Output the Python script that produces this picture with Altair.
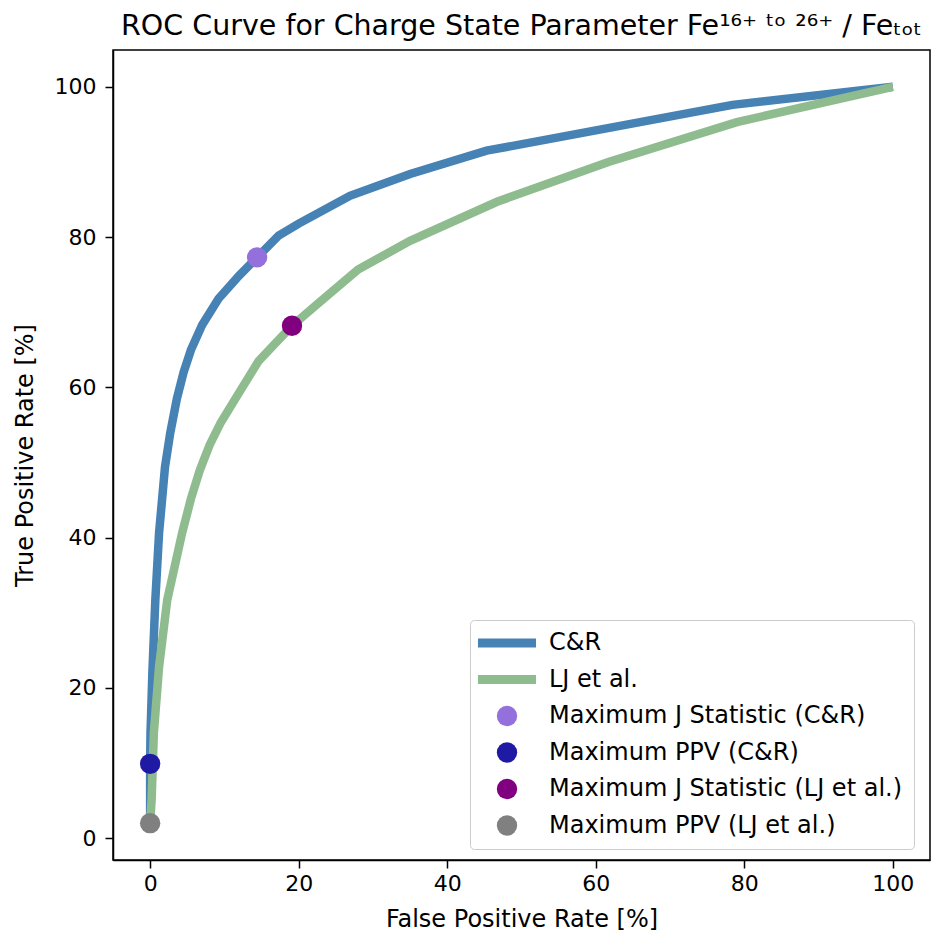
import altair as alt
import pandas as pd

# C&R ROC curve (False positive rate %, True positive rate %)
cr_fpr = [0, 0, 0.05, 0.3, 0.7, 1.2, 2.0, 2.7, 3.6, 4.5, 5.5, 7.0, 9.2, 12.0, 14.4, 17.3, 20.0, 26.9, 35.0, 45.3, 60.0, 78.4, 100]
cr_tpr = [2, 9.9, 14.0, 22.0, 31.7, 40.6, 49.4, 53.9, 58.5, 62.0, 65.0, 68.3, 71.8, 74.9, 77.3, 80.2, 81.8, 85.5, 88.4, 91.5, 94.2, 97.6, 100]

# LJ et al. ROC curve
lj_fpr = [0, 0.2, 0.5, 1.2, 2.3, 4.3, 5.5, 6.7, 8.0, 9.5, 11.3, 14.6, 16.5, 19.1, 23.0, 28.0, 35.0, 46.7, 61.7, 79.0, 100]
lj_tpr = [2, 5.1, 14.0, 22.8, 31.7, 40.6, 45.2, 49.0, 52.3, 55.3, 58.2, 63.5, 65.5, 68.2, 71.5, 75.7, 79.5, 84.7, 90.0, 95.3, 100]

# Highlighted operating points
pt_labels = ["Maximum J Statistic (C&R)", "Maximum PPV (C&R)",
             "Maximum J Statistic (LJ et al.)", "Maximum PPV (LJ et al.)"]
pt_fpr = [14.4, 0.0, 19.1, 0.0]
pt_tpr = [77.3, 9.9, 68.2, 2.0]

line_labels = ["C&R", "LJ et al."]
all_labels = line_labels + pt_labels
colors = ["#4682B4", "#8FBC8F", "#9370DB", "#1F1AA3", "#800080", "#808080"]

lines_df = pd.concat([
    pd.DataFrame({"fpr": cr_fpr, "tpr": cr_tpr, "series": "C&R", "idx": range(len(cr_fpr))}),
    pd.DataFrame({"fpr": lj_fpr, "tpr": lj_tpr, "series": "LJ et al.", "idx": range(len(lj_fpr))}),
])
points_df = pd.DataFrame({"fpr": pt_fpr, "tpr": pt_tpr, "series": pt_labels})

FONT = "DejaVu Sans"
# legend glyphs: a thick bar for the curves, a circle for the markers
bar_path = "M-2.85,-0.44H2.85V0.44H-2.85Z"
shapes = [bar_path, bar_path, "circle", "circle", "circle", "circle"]

color_scale = alt.Scale(domain=all_labels, range=colors)
shape_scale = alt.Scale(domain=all_labels, range=shapes)
legend = alt.Legend(
    title=None, orient="none", legendX=357, legendY=570,
    labelFont=FONT, labelFontSize=24, labelColor="black",
    symbolSize=415, rowPadding=12.5, padding=11, symbolOffset=14, labelOffset=30,
    labelLimit=600, symbolStrokeWidth=0, symbolOpacity=1,
    fillColor="white", strokeColor="#cccccc", cornerRadius=4,
)

x_enc = alt.X("fpr:Q", scale=alt.Scale(domain=[-5, 105], nice=False, zero=False),
              axis=alt.Axis(values=[0, 20, 40, 60, 80, 100], title="False Positive Rate [%]",
                            labelPadding=5, titlePadding=13))
y_enc = alt.Y("tpr:Q", scale=alt.Scale(domain=[-2.9, 104.9], nice=False, zero=False),
              axis=alt.Axis(values=[0, 20, 40, 60, 80, 100], title="True Positive Rate [%]",
                            labelPadding=9, titlePadding=17))

lines = alt.Chart(lines_df).mark_line(strokeWidth=8.5, strokeCap="butt").encode(
    x=x_enc, y=y_enc,
    color=alt.Color("series:N", scale=color_scale, legend=legend),
    order="idx:Q",
)
points = alt.Chart(points_df).mark_point(filled=True, size=415, opacity=1, strokeWidth=0).encode(
    x="fpr:Q", y="tpr:Q",
    color=alt.Color("series:N", scale=color_scale, legend=legend),
    shape=alt.Shape("series:N", scale=shape_scale, legend=legend),
)

chart = alt.layer(lines, points).properties(
    width=817, height=810,
    title=alt.Title("ROC Curve for Charge State Parameter Fe¹⁶⁺ ᵗᵒ ²⁶⁺ / Feₜₒₜ",
                    font=FONT, fontSize=28.5, fontWeight="normal", color="black",
                    anchor="middle", offset=10),
    autosize=alt.AutoSizeParams(type="none"),
    padding={"left": 113, "top": 50, "right": 2, "bottom": 79},
).configure_axis(
    labelFont=FONT, labelFontSize=22, labelColor="black",
    titleFont=FONT, titleFontSize=24, titleFontWeight="normal", titleColor="black",
    tickColor="black", tickSize=8, tickWidth=1.5,
    domainColor="black", domainWidth=1.5, grid=False,
).configure_view(stroke="black", strokeWidth=1.5)

chart.save("out.html", embed_options={"renderer": "svg", "actions": False})
